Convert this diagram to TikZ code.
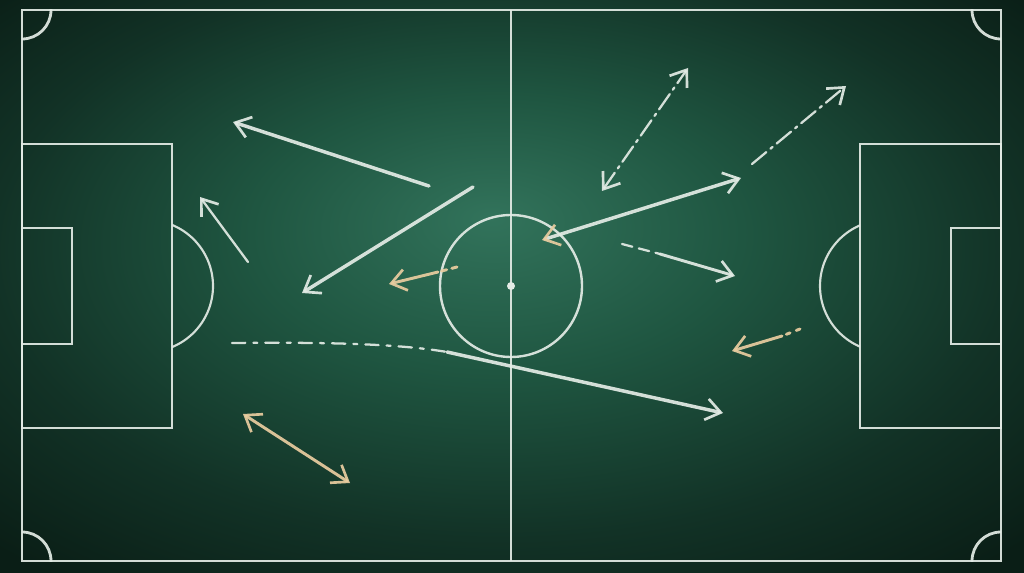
\documentclass[tikz,border=0pt]{standalone}
\usetikzlibrary{arrows.meta}

\definecolor{chalk}{RGB}{228,236,230}
\definecolor{chalktan}{RGB}{234,205,160}
\definecolor{boardlight}{RGB}{50,115,91}
\definecolor{boardmid}{RGB}{31,86,65}
\definecolor{boardedge}{RGB}{18,50,38}
\definecolor{boarddark}{RGB}{10,30,22}
\pgfdeclareradialshading{chalkboard}{\pgfpoint{-1bp}{6bp}}{color(0bp)=(boardlight); color(12bp)=(boardmid); color(25bp)=(boardedge); color(35bp)=(boarddark); color(50bp)=(boarddark)}

\tikzset{every picture/.style={line width=0.75pt}}
\tikzset{
  fieldline/.style={draw=chalk, line width=2.1pt, draw opacity=0.92},
  chalkpass/.style={draw=chalk, line width=2.6pt, line cap=round, draw opacity=0.92, -{Straight Barb[length=11pt,width=16pt,line width=2pt]}},
  chalkrun/.style={chalkpass, line width=1.7pt},
  tanpass/.style={chalkpass, draw=chalktan, line width=2.2pt},
  twohead/.style={{Straight Barb[length=11pt,width=16pt,line width=2pt]}-{Straight Barb[length=11pt,width=16pt,line width=2pt]}},
  dotdash/.style={dash pattern=on 14pt off 4pt on 2pt off 4pt},
  brokenrun/.style={dash pattern=on 10pt off 6pt on 3pt off 6pt}
}

\begin{document}
\begin{tikzpicture}[x=0.75pt,y=0.75pt,yscale=-1,xscale=1]
\useasboundingbox (0,0) rectangle (1024,573);

%Shape: Board
\shade [shading=chalkboard] (0,0) rectangle (1024,573);

%Shape: Pitch outline
\draw [fieldline] (22,10) rectangle (1001,561);
%Straight Lines: halfway line
\draw [fieldline] (511,10) -- (511,561);
%Shape: Centre circle
\draw [fieldline, line width=1.8pt] (511,286) circle (71);
\fill [chalk] (511,286) circle (4);

%Shape: Penalty boxes and goal boxes
\draw [fieldline] (22,144) rectangle (172,428);
\draw [fieldline] (22,228) rectangle (72,344);
\draw [fieldline] (1001,144) rectangle (860,428);
\draw [fieldline] (1001,228) rectangle (951,344);

%Shape: Penalty arcs
\begin{scope}
\clip (172,0) rectangle (511,573);
\draw [fieldline, line width=1.6pt] (147,286) circle (66);
\end{scope}
\begin{scope}
\clip (511,0) rectangle (860,573);
\draw [fieldline, line width=1.6pt] (886,286) circle (66);
\end{scope}

%Shape: Corner arcs
\begin{scope}
\clip (22,10) rectangle (1001,561);
\draw [fieldline] (22,10) circle (29);
\draw [fieldline] (1001,10) circle (29);
\draw [fieldline] (22,561) circle (29);
\draw [fieldline] (1001,561) circle (29);
\end{scope}

% Arrow ends
\coordinate (a1s) at (429,186);
\coordinate (a1e) at (233,122);
\coordinate (a2s) at (473,187);
\coordinate (a2e) at (302,293);
\coordinate (a3s) at (248,262);
\coordinate (a3e) at (200,197);
\coordinate (a4s) at (457,267);
\coordinate (a4m) at (438,272);
\coordinate (a4e) at (389,284);
\coordinate (a5s) at (602,191);
\coordinate (a5e) at (688,68);
\coordinate (a6s) at (752,164);
\coordinate (a6e) at (846,86);
\coordinate (a7s) at (542,240);
\coordinate (a7e) at (741,178);
\coordinate (a8s) at (622,244);
\coordinate (a8m) at (660,254);
\coordinate (a8e) at (735,276);
\coordinate (a9s) at (800,329);
\coordinate (a9m) at (782,336);
\coordinate (a9e) at (732,351);
\coordinate (a10s) at (232,343);
\coordinate (a10m) at (447,352);
\coordinate (a10e) at (723,413);
\coordinate (a11s) at (243,414);
\coordinate (a11e) at (350,483);

%Straight Lines
\draw [chalkpass] (a1s) -- (a1e);
%Straight Lines
\draw [chalkpass] (a2s) -- (a2e);
%Straight Lines
\draw [chalkrun] (a3s) -- (a3e);
%Straight Lines
\draw [tanpass, -, dash pattern=on 4pt off 4pt] (a4s) -- (a4m);
\draw [tanpass] (a4m) -- (a4e);
%Straight Lines
\draw [chalkrun, dotdash, twohead] (a5s) -- (a5e);
%Straight Lines
\draw [chalkrun, dotdash] (a6s) -- (a6e);
%Straight Lines
\draw [chalkpass, {Straight Barb[length=11pt,width=16pt,line width=2pt,color=chalktan]}-{Straight Barb[length=11pt,width=16pt,line width=2pt]}] (a7s) -- (a7e);
%Straight Lines
\draw [chalkrun, -, dash pattern=on 8pt off 5pt] (a8s) -- (a8m);
\draw [chalkpass, line width=2.2pt] (a8m) -- (a8e);
%Straight Lines
\draw [tanpass, -, dash pattern=on 3pt off 5pt] (a9s) -- (a9m);
\draw [tanpass] (a9m) -- (a9e);
%Curve Lines
\draw [chalkrun, -, brokenrun] (a10s) .. controls (330,342) and (400,344) .. (a10m);
\draw [chalkpass] (a10m) -- (a10e);
%Straight Lines
\draw [tanpass, twohead] (a11s) -- (a11e);

\end{tikzpicture}
\end{document}
